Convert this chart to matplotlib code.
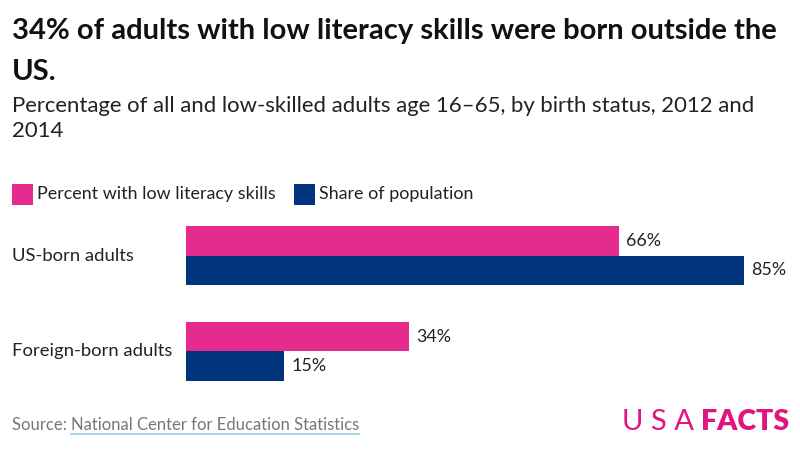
import matplotlib
matplotlib.use("Agg")
import matplotlib.pyplot as plt
from matplotlib.patches import Rectangle
from matplotlib.lines import Line2D
from matplotlib.transforms import blended_transform_factory
import numpy as np

categories = ["US-born adults", "Foreign-born adults"]
series_names = ["Percent with low literacy skills", "Share of population"]
low_literacy = [66, 34]
population = [85, 15]
colors = ["#E52B8E", "#00357D"]

plt.rcParams['font.family'] = ['Lato', 'DejaVu Sans']

W, H = 800, 449
fig = plt.figure(figsize=(W/100, H/100), dpi=100)
fig.patch.set_facecolor("white")

def px(x, y):
    return x / W, 1 - y / H

# Title & subtitle
fig.text(*px(12, 31), "34% of adults with low literacy skills were born outside the",
         fontsize=21, fontweight='bold', color="#111111", va='center', ha='left')
fig.text(*px(12, 72), "US.", fontsize=21, fontweight='bold', color="#111111", va='center', ha='left')
fig.text(*px(12, 106), "Percentage of all and low-skilled adults age 16\u201365, by birth status, 2012 and",
         fontsize=15.9, color="#222222", va='center', ha='left')
fig.text(*px(12, 131), "2014", fontsize=15.9, color="#222222", va='center', ha='left')

# Legend
leg_items = [(12, series_names[0], colors[0]), (294, series_names[1], colors[1])]
for x0, name, c in leg_items:
    fig.patches.append(Rectangle(px(x0, 205), 21/W, 21/H, transform=fig.transFigure,
                                 facecolor=c, edgecolor='none'))
    fig.text(*px(x0 + 25, 194), name, fontsize=12.9, color="#222222", va='center', ha='left')

# Axes
ax = fig.add_axes([186/W, 1 - 381/H, (744-186)/W, (381-226)/H])
h = 0.31
y = np.arange(len(categories))
ax.barh(y - h/2, low_literacy, height=h, color=colors[0], edgecolor='none')
ax.barh(y + h/2, population, height=h, color=colors[1], edgecolor='none')
ax.set_xlim(0, max(population))
ax.set_ylim(len(categories) - 1 + h, -h)
ax.axis('off')

for i in range(len(categories)):
    ax.text(low_literacy[i] + 1.1, y[i] - h/2, f"{low_literacy[i]}%", va='center', ha='left',
            fontsize=12.9, color="#222222", clip_on=False)
    ax.text(population[i] + 1.1, y[i] + h/2, f"{population[i]}%", va='center', ha='left',
            fontsize=12.9, color="#222222", clip_on=False)

tr = blended_transform_factory(fig.transFigure, ax.transData)
for i in range(len(categories)):
    fig.text(12/W, y[i], categories[i], transform=tr, va='center', ha='left',
             fontsize=13.3, color="#222222")

# Source
t1 = fig.text(*px(12, 425), "Source: ", fontsize=12, color="#777777", va='center', ha='left')
fig.canvas.draw()
r = fig.canvas.get_renderer()
bb = t1.get_window_extent(r)
t2 = fig.text(bb.x1 / W, 1 - 425/H, "National Center for Education Statistics", fontsize=12,
              color="#777777", va='center', ha='left')
bb2 = t2.get_window_extent(r)
fig.lines.append(Line2D([bb2.x0/W, bb2.x1/W], [1 - 434/H, 1 - 434/H], transform=fig.transFigure,
                        color="#A9D3E6", linewidth=1.5))

# Logo
tf = fig.text(*px(789, 422), "FACTS", fontsize=20.5, fontweight='heavy', color="#E0157F",
              va='center', ha='right')
bbf = tf.get_window_extent(r)
fig.text((bbf.x0 - 7)/W, 1 - 422/H, "U S A", fontsize=21, fontweight='normal', color="#E0157F",
         va='center', ha='right')

fig.savefig("out.png", dpi=100, facecolor="white")
